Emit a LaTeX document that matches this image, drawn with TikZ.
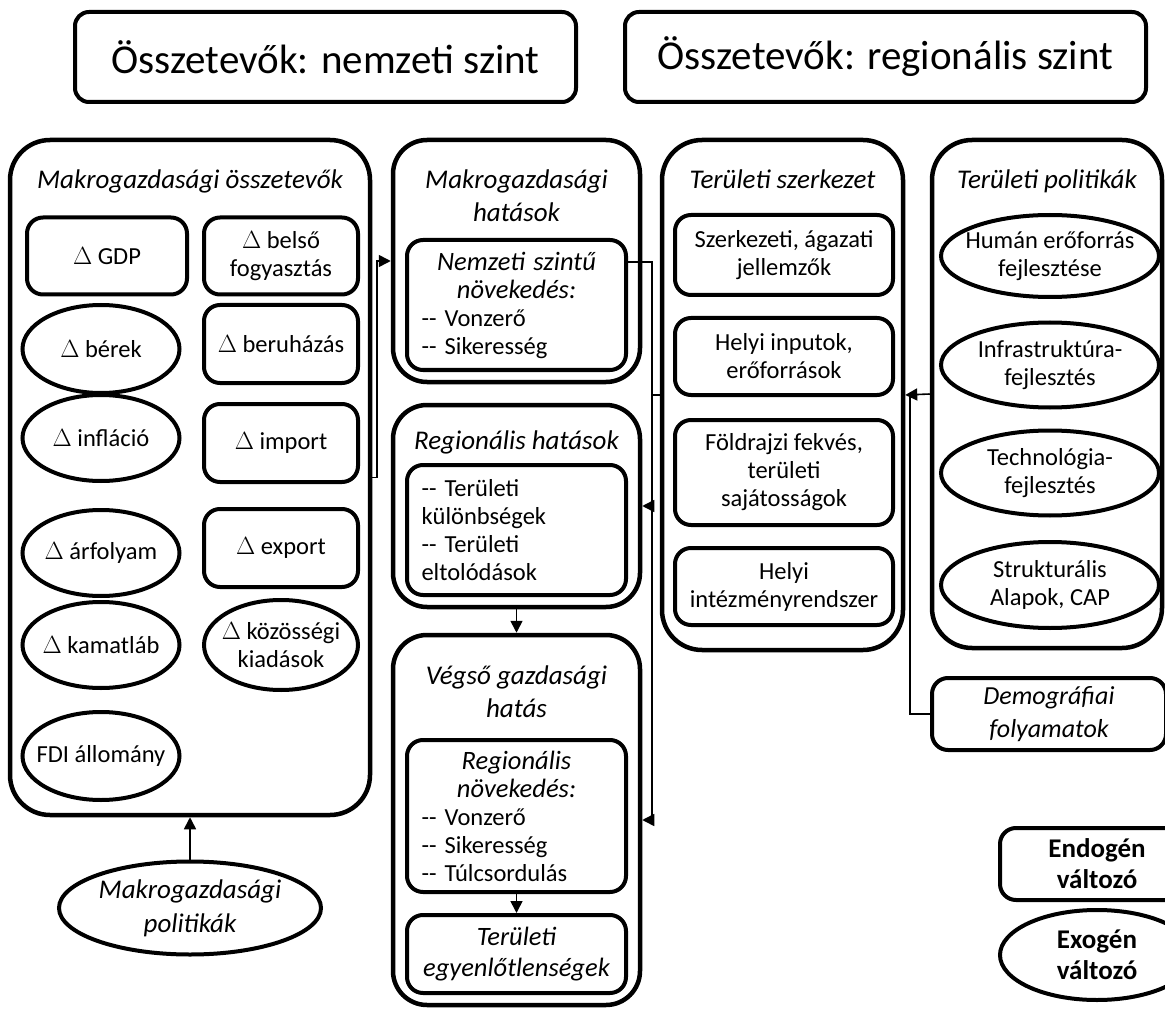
\documentclass[tikz,border=0pt]{standalone}
\usepackage{fontspec}
\setmainfont{Carlito}
\usetikzlibrary{positioning, shapes.geometric, arrows.meta}
\tikzset{
  header/.style={rectangle, draw, rounded corners=14pt, line width=4pt, minimum height=90pt, font=\fontsize{41}{48}\selectfont},
  group/.style={rectangle, draw, rounded corners=40pt, line width=4.5pt},
  grouptitle/.style={align=center, inner sep=2pt, font=\fontsize{27}{33}\selectfont\itshape},
  endo/.style={rectangle, draw, rounded corners=16pt, line width=4pt, align=center, inner sep=2pt, font=\fontsize{24.5}{28}\selectfont},
  exo/.style={ellipse, draw, line width=4pt, align=center, inner sep=-10pt, font=\fontsize{24.5}{28}\selectfont},
  flow/.style={-{Triangle[length=12pt,width=12pt]}, line width=1.6pt},
  link/.style={line width=1.6pt},
}

\begin{document}
\begin{tikzpicture}[x=1pt, y=-1pt]
  \useasboundingbox (0,0) rectangle (1165,1016);

  % Headers
  \node[header, minimum width=501pt] (nathead) at (325.5,57) {Összetevők: nemzeti szint};
  \node[header, minimum width=521pt] (reghead) at (885.5,57) {Összetevők: regionális szint};

  % Macro components
  \node[group, minimum width=360pt, minimum height=675pt] (macro) at (190,477.5) {};
  \node[grouptitle, below=30pt of macro.north] (macrotitle) {Makrogazdasági összetevők};
  \node[endo, minimum width=160pt, minimum height=77pt] (gdp) at (107,256) {$\Delta$ GDP};
  \node[endo, minimum width=154pt, minimum height=77pt] (belso) at (281,256) {$\Delta$ belső\\fogyasztás};
  \node[exo, minimum width=157pt, minimum height=88pt] (berek) at (101,349) {$\Delta$ bérek};
  \node[endo, minimum width=154pt, minimum height=78pt] (beruh) at (281,344) {$\Delta$ beruházás};
  \node[exo, minimum width=157pt, minimum height=86pt] (inflacio) at (101,438) {$\Delta$ infláció};
  \node[endo, minimum width=154pt, minimum height=78pt] (import) at (281,443) {$\Delta$ import};
  \node[exo, minimum width=157pt, minimum height=86pt] (arfolyam) at (101,553) {$\Delta$ árfolyam};
  \node[endo, minimum width=154pt, minimum height=78pt] (export) at (281,548) {$\Delta$ export};
  \node[exo, minimum width=157pt, minimum height=86pt] (kamat) at (101,645) {$\Delta$ kamatláb};
  \node[exo, minimum width=154pt, minimum height=90pt] (kozos) at (281,645) {$\Delta$ közösségi\\kiadások};
  \node[exo, minimum width=157pt, minimum height=88pt] (fdi) at (101,756) {FDI állomány};

  \node[exo, minimum width=262pt, minimum height=93pt, font=\fontsize{27}{34}\selectfont\itshape] (makpol) at (190,908) {Makrogazdasági\\politikák};

  % Effects
  \node[group, rounded corners=34pt, minimum width=247pt, minimum height=242pt] (makhat) at (516.5,261) {};
  \node[grouptitle, below=30pt of makhat.north] (makhattitle) {Makrogazdasági\\hatások};
  \node[endo, text width=190pt, inner xsep=14.5pt, minimum height=130pt, align=left] (nemz) at (516.5,305)
    {{\centering\fontsize{26.5}{28}\selectfont\itshape Nemzeti szintű\\növekedés:\par}-{}- Vonzerő\\-{}- Sikeresség};

  \node[group, rounded corners=34pt, minimum width=247pt, minimum height=202pt] (reghat) at (516.5,506) {};
  \node[grouptitle, below=26pt of reghat.north] (reghattitle) {Regionális hatások};
  \node[endo, text width=190pt, inner xsep=14.5pt, minimum height=130pt, align=left] (regin) at (516.5,530)
    {-{}- Területi\\különbségek\\-{}- Területi\\eltolódások};

  \node[group, rounded corners=34pt, minimum width=247pt, minimum height=370pt] (vegso) at (516.5,820) {};
  \node[grouptitle, below=31pt of vegso.north] (vegsotitle) {Végső gazdasági\\hatás};
  \node[endo, text width=190pt, inner xsep=14.5pt, minimum height=152pt, align=left] (regnov) at (516.5,816)
    {{\centering\fontsize{26.5}{28}\selectfont\itshape Regionális\\növekedés:\par}-{}- Vonzerő\\-{}- Sikeresség\\-{}- Túlcsordulás};
  \node[endo, minimum width=219pt, minimum height=78pt, font=\fontsize{26.5}{31}\selectfont\itshape] (egyenl) at (516.5,954) {Területi\\egyenlőtlenségek};

  % Regional structure
  \node[group, minimum width=241pt, minimum height=510pt] (terszerk) at (782.5,395) {};
  \node[grouptitle, below=30pt of terszerk.north] (terszerktitle) {Területi szerkezet};
  \node[endo, minimum width=218pt, minimum height=80pt] (szerk) at (784,255) {Szerkezeti, ágazati\\jellemzők};
  \node[endo, minimum width=218pt, minimum height=77pt] (inputs) at (784,356.5) {Helyi inputok,\\erőforrások};
  \node[endo, minimum width=218pt, minimum height=105pt] (foldr) at (784,472.5) {Földrajzi fekvés,\\területi\\sajátosságok};
  \node[endo, minimum width=218pt, minimum height=77pt] (intez) at (784,586.5) {Helyi\\intézményrendszer};

  % Regional policies
  \node[group, minimum width=230pt, minimum height=508pt] (terpol) at (1047,394) {};
  \node[grouptitle, below=30pt of terpol.north] (terpoltitle) {Területi politikák};
  \node[exo, minimum width=218pt, minimum height=82pt] (human) at (1050,256) {Humán erőforrás\\fejlesztése};
  \node[exo, minimum width=218pt, minimum height=85pt] (infra) at (1050,365) {Infrastruktúra-\\fejlesztés};
  \node[exo, minimum width=218pt, minimum height=85pt] (tech) at (1050,473) {Technológia-\\fejlesztés};
  \node[exo, minimum width=218pt, minimum height=86pt] (strukt) at (1050,585) {Strukturális\\Alapok, CAP};

  \node[endo, minimum width=234pt, minimum height=72pt, font=\fontsize{26}{33}\selectfont\itshape] (demog) at (1049,714) {Demográfiai\\folyamatok};

  % Legend
  \node[endo, minimum width=194pt, minimum height=72pt, font=\fontsize{27}{31}\selectfont\bfseries] (legendo) at (1097,864) {Endogén\\változó};
  \node[exo, minimum width=194pt, minimum height=90pt, font=\fontsize{27}{31}\selectfont\bfseries] (legexo) at (1097,955) {Exogén\\változó};

  % Arrows
  \coordinate (bustop) at (652,262);
  \coordinate (rbus) at (910,394);
  \draw[flow] (macro.east) -- ++(5,0) |- (makhat.west);
  \draw[flow] (makpol.north) -- (macro.south);
  \draw[link] (nemz.east |- bustop) -- (bustop) -- (bustop |- vegso.east);
  \draw[link] (terszerk.west) -- (terszerk.west -| bustop);
  \draw[flow] (reghat.east -| bustop) -- (reghat.east);
  \draw[flow] (vegso.east -| bustop) -- (vegso.east);
  \draw[flow] (reghat.south) -- (vegso.north);
  \draw[flow] (regnov.south) -- (egyenl.north);
  \draw[flow] (terpol.west) -- (terszerk.east);
  \draw[link] (demog.west) -| (rbus);

\end{tikzpicture}
\end{document}
